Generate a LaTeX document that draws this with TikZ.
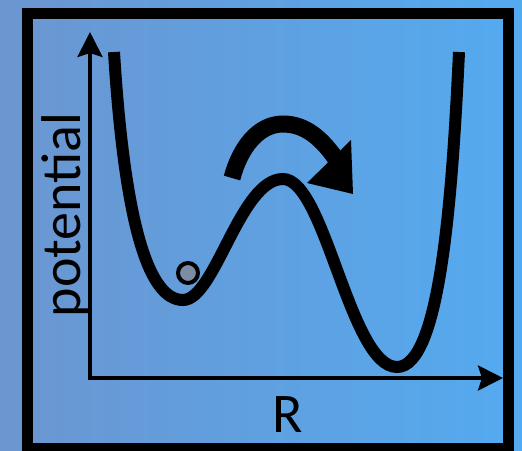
\documentclass[tikz,border=0pt]{standalone}
\usepackage{fontspec}
\setmainfont{Carlito}
\usetikzlibrary{arrows.meta}
\definecolor{bgL}{RGB}{107,150,208}
\definecolor{bgR}{RGB}{84,170,240}
\definecolor{ballgray}{RGB}{125,140,165}
\begin{document}
\begin{tikzpicture}[x=1pt,y=-1pt,
  axisline/.style={line width=4pt,-{Stealth[length=25pt,width=25pt,inset=4pt]}},
  pot/.style={line width=12pt},
  lbl/.style={font=\fontsize{56}{60}\selectfont, inner sep=0pt}]
\useasboundingbox (0,0) rectangle (522,450);
\shade[left color=bgL,right color=bgR] (0,0) rectangle (522,450);
\draw[line width=11pt] (27.5,13) rectangle (508,448);
% axes
\coordinate (ybot) at (90,380);
\coordinate (ytop) at (90,32);
\coordinate (xleft) at (88,378);
\coordinate (xright) at (503,378);
\draw[axisline] (ybot) -- (ytop);
\draw[axisline] (xleft) -- (xright);
% labels
\node[lbl, rotate=90, anchor=base] (ylabel) at (80,215) {potential};
\node[lbl, anchor=base] (xlabel) at (288,432) {R};
% potential curve
\draw[pot] (114,52) .. controls (125,230) and (150,300) .. (183,300)
  .. controls (215,300) and (240,179) .. (283,179)
  .. controls (325,179) and (350,367) .. (397,367)
  .. controls (440,367) and (452,200) .. (459,52);
% ball
\draw[line width=4pt, fill=ballgray] (188,273) circle[radius=10];
% hop arrow
\draw[line width=17pt] (232,178) .. controls (240,148) and (258,124) .. (283,124)
  .. controls (305,124) and (322,138) .. (338,162);
\fill (351,140) -- (353,194) -- (307,183) -- cycle;
\end{tikzpicture}
\end{document}
